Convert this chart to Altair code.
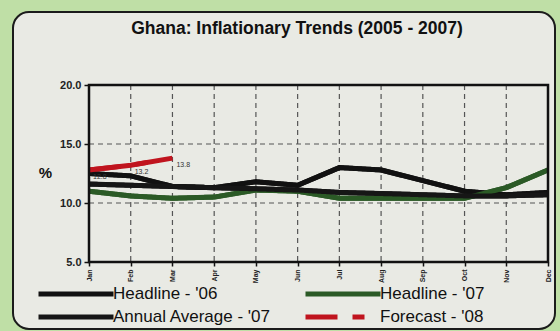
import altair as alt
import pandas as pd

MONTHS = ["Jan", "Feb", "Mar", "Apr", "May", "Jun", "Jul", "Aug", "Sep", "Oct", "Nov", "Dec"]
MONTH_NO = list(range(1, 13))
HEADLINE_06 = [12.5, 12.3, 11.4, 11.3, 11.8, 11.5, 13.0, 12.8, 11.9, 11.0, 10.7, 10.9]
HEADLINE_07 = [11.0, 10.6, 10.4, 10.5, 11.1, 11.0, 10.4, 10.4, 10.4, 10.4, 11.3, 12.8]
ANNUAL_AVG_07 = [11.6, 11.5, 11.4, 11.3, 11.2, 11.1, 10.9, 10.8, 10.7, 10.6, 10.6, 10.7]
FORECAST_08 = [12.8, 13.2, 13.8]
SERIES = ["Headline - '06", "Headline - '07", "Annual Average - '07", "Forecast - '08"]
COLORS = ["#111111", "#2b5a26", "#161616", "#c0141e"]
DASHES = [[1, 0], [1, 0], [1, 0], [32, 15, 12, 300]]
Y_TICKS = [5, 10, 15, 20]
GRID_Y = [10, 15]
TITLE = "Ghana: Inflationary Trends (2005 - 2007)"

FONT = "Liberation Sans"
PANEL = "#e9eae4"
BG = "#bfdfa6"

rows = []
for s, vals in zip(SERIES, [HEADLINE_06, HEADLINE_07, ANNUAL_AVG_07, FORECAST_08]):
    for m, v in zip(MONTH_NO, vals):
        rows.append({"month": m, "value": v, "series": s})
df = pd.DataFrame(rows)
fc = df[df["series"] == SERIES[3]]

month_expr = "[" + ",".join("'%s'" % m for m in MONTHS) + "][datum.value - 1]"

# the view is the rounded panel; the data area sits inside it via the scale ranges
xscale = alt.Scale(domain=[1, 12], range=[76, 535], nice=False, zero=False)
yscale = alt.Scale(domain=[5, 20], range=[250, 73], nice=False, zero=False)

X_AXIS = alt.Axis(values=MONTH_NO, labelExpr=month_expr, offset=-67, title=None,
                  labelAngle=270, labelFontSize=7, labelFontWeight="bold", labelFont=FONT,
                  labelColor="#222", tickSize=4, tickColor="#111", tickWidth=1.5,
                  labelPadding=3, domain=False, grid=False)
Y_AXIS = alt.Axis(values=Y_TICKS, format=".1f", title="%", offset=-76,
                  titleAngle=0, titleX=-44, titleY=160,
                  titleAlign="center", titleBaseline="middle",
                  titleFontSize=15, titleFontWeight="bold", titleFont=FONT,
                  titleColor="#111",
                  labelFontSize=11, labelFontWeight="bold", labelFont=FONT,
                  labelColor="#222", tickSize=5, tickColor="#111", tickWidth=1.5,
                  labelPadding=3, domain=False, grid=False)

legend = alt.Legend(
    title=None, orient="none", legendX=23, legendY=272, columns=2, direction="horizontal",
    columnPadding=24, rowPadding=3, padding=0,
    symbolType="M-1,0H9", symbolSize=225, symbolStrokeWidth=5, labelOffset=57,
    labelFontSize=17, labelFont=FONT, labelColor="#111", labelLimit=300,
)
color = alt.Color("series:N", scale=alt.Scale(domain=SERIES, range=COLORS), legend=legend)

grid_v = alt.Chart(pd.DataFrame({"month": MONTH_NO})).mark_rule(
    color="#555", strokeWidth=1.2, strokeDash=[5, 4]
).encode(
    x=alt.X("month:Q", scale=xscale, axis=X_AXIS),
    y=alt.Y(datum=20, scale=yscale, axis=Y_AXIS),
    y2=alt.Y2(datum=5),
)

grid_h = alt.Chart(pd.DataFrame({"value": GRID_Y})).mark_rule(
    color="#555", strokeWidth=1.2, strokeDash=[5, 4]
).encode(
    y=alt.Y("value:Q", scale=yscale, axis=Y_AXIS),
    x=alt.X(datum=1, scale=xscale, axis=X_AXIS),
    x2=alt.X2(datum=12),
)

frame = alt.Chart(pd.DataFrame({"k": [0]})).mark_rect(
    fill="transparent", stroke="#111", strokeWidth=2.5
).encode(
    x=alt.X(datum=1, scale=xscale, axis=X_AXIS),
    x2=alt.X2(datum=12),
    y=alt.Y(datum=20, scale=yscale, axis=Y_AXIS),
    y2=alt.Y2(datum=5),
)

base = alt.Chart(df)
lines_a = base.mark_line(strokeWidth=5).encode(
    x=alt.X("month:Q", scale=xscale, axis=X_AXIS),
    y=alt.Y("value:Q", scale=yscale, axis=Y_AXIS),
    color=color,
    detail="series:N",
)
lines_b = base.mark_line(strokeWidth=5).encode(
    x=alt.X("month:Q", scale=xscale, axis=X_AXIS),
    y=alt.Y("value:Q", scale=yscale, axis=Y_AXIS),
    color=color,
    strokeDash=alt.StrokeDash("series:N", scale=alt.Scale(domain=SERIES, range=DASHES), legend=legend),
)
labels = alt.Chart(fc).mark_text(
    align="left", baseline="middle", dx=4, dy=7, fontSize=7, font=FONT, color="#333"
).encode(
    x=alt.X("month:Q", scale=xscale, axis=X_AXIS),
    y=alt.Y("value:Q", scale=yscale, axis=Y_AXIS),
    text=alt.Text("value:Q", format=".1f"),
)

chart = alt.layer(grid_v, grid_h, lines_a, lines_b, labels, frame).properties(
    width=542, height=317,
    title=alt.TitleParams(TITLE, fontSize=17.5, fontWeight="bold", font=FONT, color="#111",
                          anchor="middle", frame="group", dx=13, offset=-25),
    autosize=alt.AutoSizeParams(type="none"),
    padding={"left": 13, "top": 12, "right": 5, "bottom": 2},
    background=BG,
).configure_view(stroke="#1b1b1b", strokeWidth=2, fill=PANEL, cornerRadius=16)

chart.save("out.html", embed_options={"renderer": "svg", "actions": False})
